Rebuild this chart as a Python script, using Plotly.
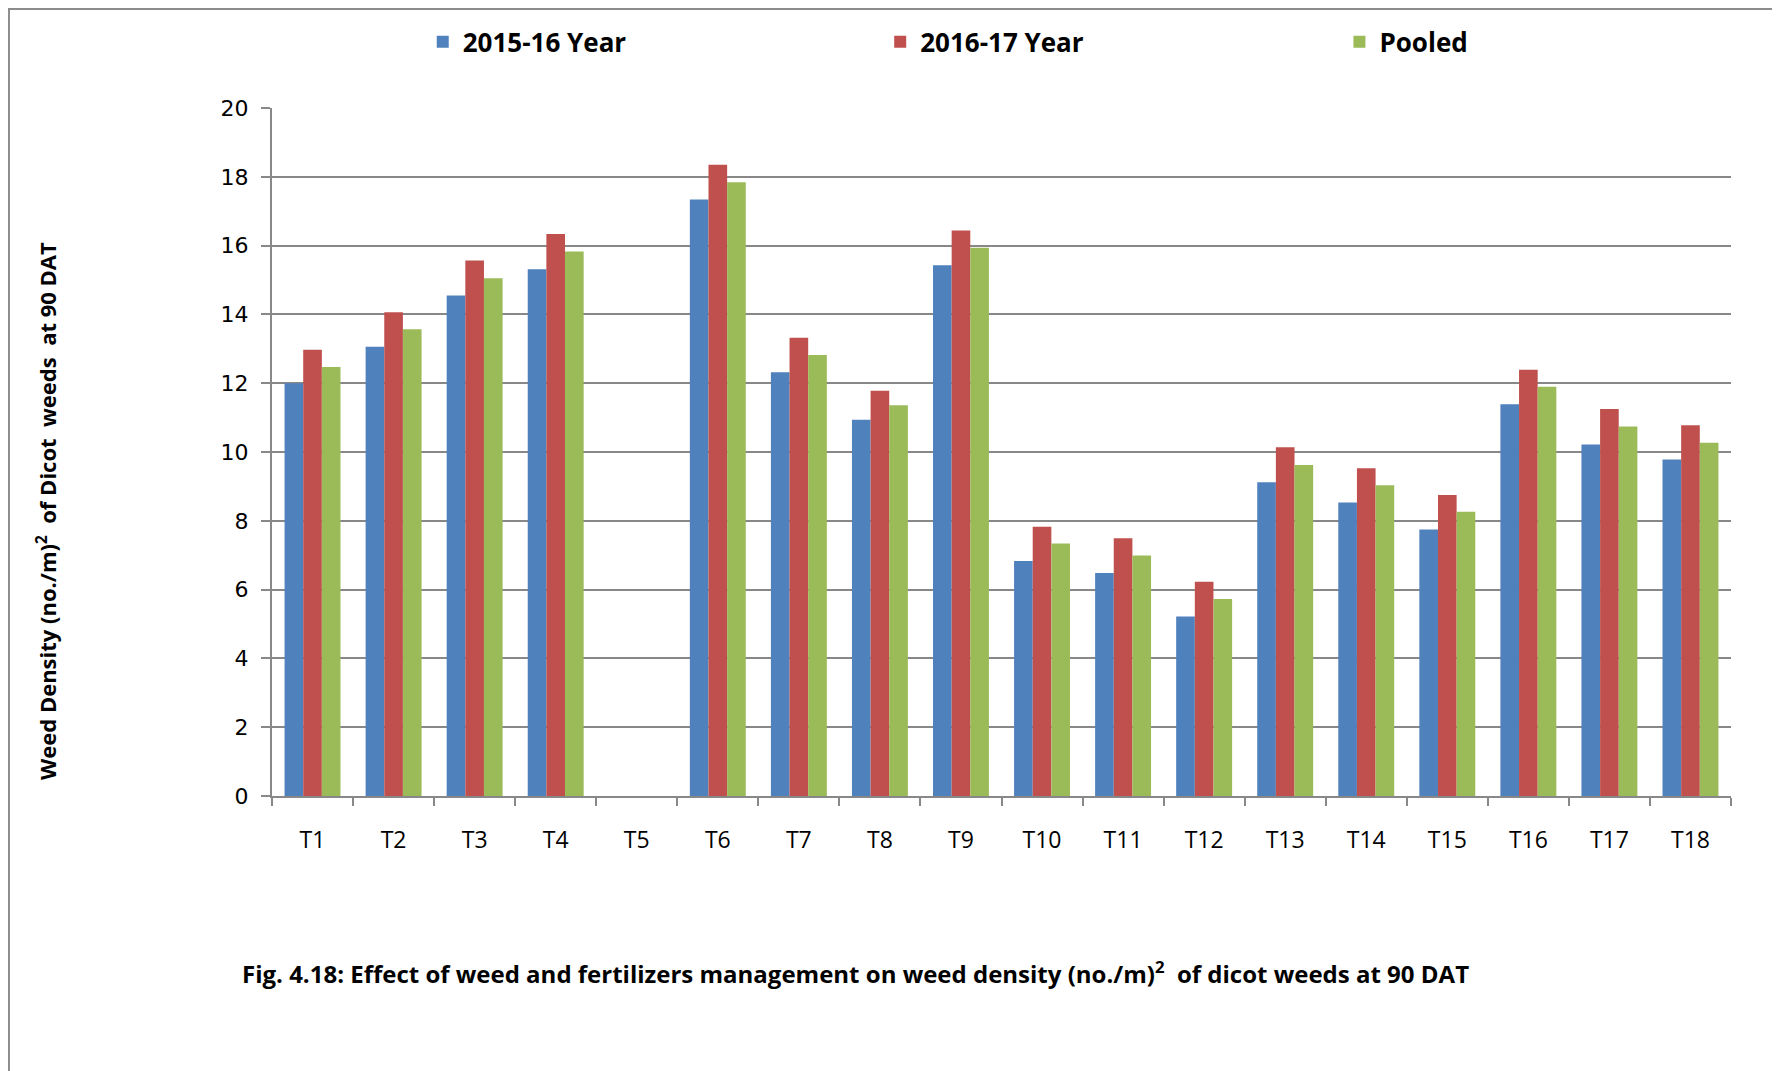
import plotly.graph_objects as go

treatments = ['T1', 'T2', 'T3', 'T4', 'T5', 'T6', 'T7', 'T8', 'T9', 'T10',
              'T11', 'T12', 'T13', 'T14', 'T15', 'T16', 'T17', 'T18']
year_2015_16 = [12.00, 13.06, 14.55, 15.31, 0, 17.34, 12.32, 10.94, 15.43, 6.83,
                6.48, 5.22, 9.12, 8.53, 7.75, 11.39, 10.22, 9.78]
year_2016_17 = [12.97, 14.06, 15.57, 16.34, 0, 18.35, 13.32, 11.78, 16.44, 7.83,
                7.49, 6.23, 10.14, 9.53, 8.75, 12.39, 11.25, 10.78]
pooled = [12.47, 13.57, 15.05, 15.83, 0, 17.84, 12.82, 11.36, 15.94, 7.34,
          6.99, 5.73, 9.62, 9.03, 8.26, 11.90, 10.74, 10.27]

series = [('2015-16 Year', year_2015_16, '#4F81BD'),
          ('2016-17 Year', year_2016_17, '#C0504D'),
          ('Pooled', pooled, '#9BBB59')]

fig = go.Figure()
legends = ['legend', 'legend2', 'legend3']
for (name, vals, col), lg in zip(series, legends):
    fig.add_trace(go.Bar(x=treatments, y=vals, name=name, marker_color=col,
                         marker_line_width=0, legend=lg, showlegend=True))

grid = '#888888'
leg_font = dict(family='Open Sans', size=26, color='black', weight='bold')
# one legend per series so the entries sit where they do in the original
leg_x = [0.233, 0.49, 0.748]
leg_y = 0.9685
fig.update_layout(
    width=1780, height=1071, showlegend=True,
    margin=dict(l=264, r=57, t=100, b=283, autoexpand=False),
    plot_bgcolor='white', paper_bgcolor='white',
    barmode='group', bargap=0.31, bargroupgap=0,
    font=dict(family='Open Sans', color='black'),
    legend=dict(xref='container', yref='container', x=leg_x[0], y=leg_y,
                xanchor='left', yanchor='middle', bgcolor='rgba(0,0,0,0)', font=leg_font),
    legend2=dict(xref='container', yref='container', x=leg_x[1], y=leg_y,
                 xanchor='left', yanchor='middle', bgcolor='rgba(0,0,0,0)', font=leg_font),
    legend3=dict(xref='container', yref='container', x=leg_x[2], y=leg_y,
                 xanchor='left', yanchor='middle', bgcolor='rgba(0,0,0,0)', font=leg_font),
)
fig.update_yaxes(range=[0, 20], dtick=2, showgrid=True, gridcolor=grid, gridwidth=2,
                 showline=True, linecolor=grid, linewidth=2, ticks='outside',
                 ticklen=9, tickcolor=grid, tickwidth=2, zeroline=False,
                 ticklabelstandoff=8,
                 tickfont=dict(family='DejaVu Sans', size=22, color='black'))
fig.update_xaxes(showline=True, linecolor=grid, linewidth=2, ticks='outside',
                 tickson='boundaries', ticklen=8, tickcolor=grid, tickwidth=2,
                 ticklabelstandoff=22,
                 tickfont=dict(family='Open Sans', size=23, color='black'))

# y axis title
fig.add_annotation(text='Weed Density (no./m)<sup>2</sup>  of Dicot  weeds  at 90 DAT',
                   xref='paper', yref='paper', x=-0.155, y=0.414, textangle=-90,
                   xanchor='center', yanchor='middle',
                   showarrow=False, font=dict(family='Open Sans', size=22, weight='bold'))
# caption
fig.add_annotation(text='Fig. 4.18: Effect of weed and fertilizers management on weed density (no./m)<sup>2</sup>  of dicot weeds at 90 DAT',
                   xref='paper', yref='paper', x=0.40, y=-0.256, showarrow=False,
                   xanchor='center', yanchor='middle',
                   font=dict(family='Open Sans', size=24, weight='bold'))
# outer frame
fig.add_shape(type='rect', xref='paper', yref='paper', x0=-0.1803, x1=1.0295,
              y0=-0.45, y1=1.144, line=dict(color='#8c8c8c', width=2))

fig.write_html('out.html')
